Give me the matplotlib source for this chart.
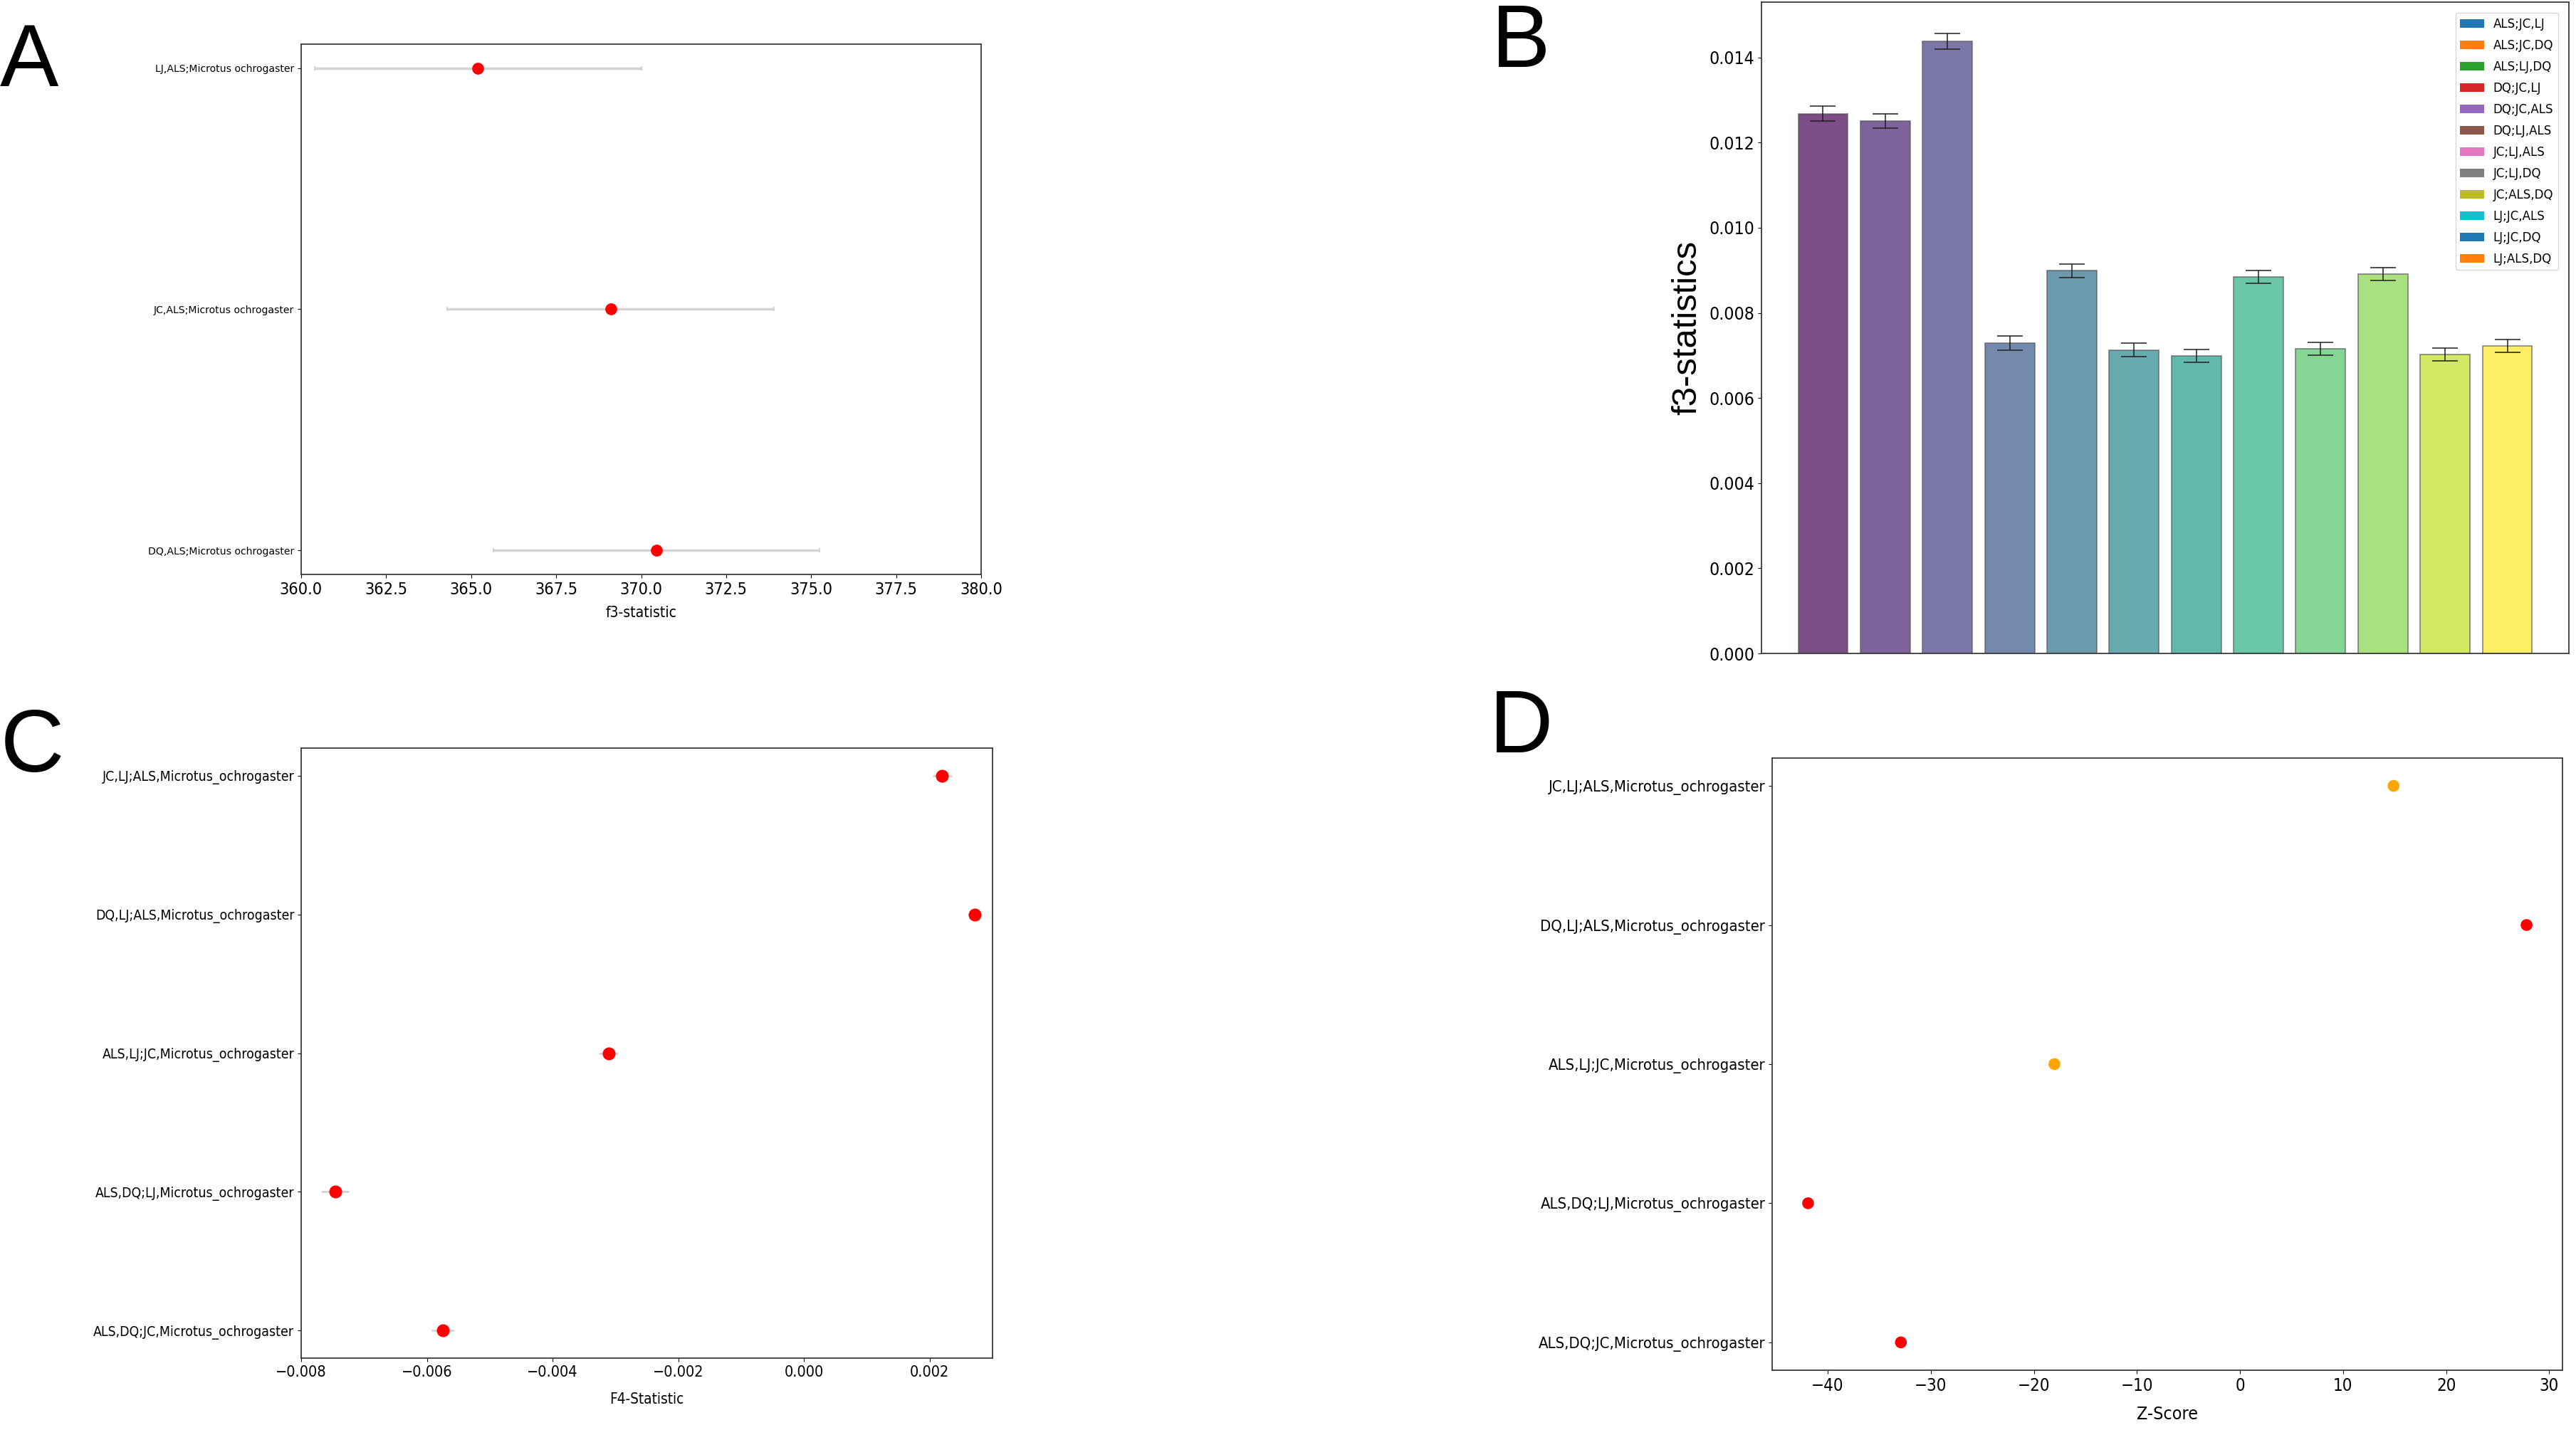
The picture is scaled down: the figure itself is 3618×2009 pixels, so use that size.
import matplotlib
matplotlib.use("Agg")
import matplotlib.pyplot as plt
from matplotlib import font_manager as fm
from matplotlib.patches import Patch
import numpy as np

# ---------------- data ----------------
# Panel A: f3 (outgroup) statistics
a_labels = ["LJ,ALS;Microtus ochrogaster", "JC,ALS;Microtus ochrogaster", "DQ,ALS;Microtus ochrogaster"]
a_values = [365.2, 369.1, 370.45]
a_errors = [4.8, 4.8, 4.8]

# Panel B: f3 statistics bar chart
b_labels = ["ALS;JC,LJ", "ALS;JC,DQ", "ALS;LJ,DQ", "DQ;JC,LJ", "DQ;JC,ALS", "DQ;LJ,ALS",
            "JC;LJ,ALS", "JC;LJ,DQ", "JC;ALS,DQ", "LJ;JC,ALS", "LJ;JC,DQ", "LJ;ALS,DQ"]
b_values = [0.01268, 0.01251, 0.01438, 0.00729, 0.00899, 0.00713,
            0.00699, 0.00885, 0.00716, 0.00891, 0.00702, 0.00723]
b_errors = [0.00017, 0.00017, 0.00019, 0.00016, 0.00016, 0.00016,
            0.00015, 0.00015, 0.00015, 0.00015, 0.00015, 0.00015]

# Panel C / D: f4 statistics and Z-scores
cd_labels = ["JC,LJ;ALS,Microtus_ochrogaster", "DQ,LJ;ALS,Microtus_ochrogaster",
             "ALS,LJ;JC,Microtus_ochrogaster", "ALS,DQ;LJ,Microtus_ochrogaster",
             "ALS,DQ;JC,Microtus_ochrogaster"]
c_values = [0.00220, 0.00272, -0.00311, -0.00746, -0.00575]
c_errors = [0.00015, 0.00010, 0.00015, 0.00022, 0.00018]
d_values = [14.9, 27.8, -18.0, -41.9, -32.9]
d_colors = ["orange", "red", "orange", "red", "red"]

# ---------------- fonts ----------------
DPI = 100
entries = fm.fontManager.ttflist
names = {f.name for f in entries}
if any(f.name == "DejaVu Sans" and str(f.stretch) == "condensed" for f in entries):
    TICK = dict(family="DejaVu Sans", stretch="condensed")
elif "Liberation Sans Narrow" in names:
    TICK = dict(family="Liberation Sans Narrow", stretch="normal")
else:
    TICK = dict(family="DejaVu Sans", stretch="normal")

plt.rcParams["font.family"] = [TICK["family"], "DejaVu Sans"]
plt.rcParams["font.stretch"] = TICK["stretch"]
plt.rcParams["axes.linewidth"] = 1.3
plt.rcParams["axes.edgecolor"] = "#3a3a3a"

W, H = 3618, 2009
fig = plt.figure(figsize=(W / DPI, H / DPI), dpi=DPI)
renderer = fig.canvas.get_renderer()


def text_w(s, px, **kw):
    t = fig.text(0, 0, s, fontsize=px * 72 / DPI, **kw)
    w = t.get_window_extent(renderer).width
    t.remove()
    return w


def fit_pt(samples, target_w, max_px, **kw):
    w = max(text_w(s, max_px, **kw) for s in samples)
    return max_px * min(1.0, target_w / w) * 72 / DPI


def axes_px(l, t, r, b):
    return fig.add_axes([l / W, 1 - b / H, (r - l) / W, (b - t) / H])


NORMAL = dict(family="DejaVu Sans", stretch="normal")

# ---------------- Panel A ----------------
axA = axes_px(423, 62, 1378, 807)
n = len(a_labels)
ya = [n - 1 - i for i in range(n)]
axA.errorbar(a_values, ya, xerr=a_errors, fmt="o", color="red", ms=11,
             ecolor="lightgray", elinewidth=2.5, capsize=2, capthick=1.5, zorder=3)
axA.set_xlim(360, 380)
ptA_y = fit_pt(a_labels, 250, 14, **NORMAL)
axA.set_yticks(ya, a_labels, fontfamily="DejaVu Sans", fontstretch="normal", fontsize=ptA_y)
axA.tick_params(axis="x", labelsize=fit_pt(["360.0"], 60, 26))
axA.set_xlabel("f3-statistic", fontsize=fit_pt(["f3-statistic"], 100, 26), labelpad=8)

# ---------------- Panel B ----------------
axB = axes_px(2474, 3, 3608, 918)
xb = np.arange(len(b_values))
cols = plt.get_cmap("viridis")(np.linspace(0, 1, len(b_values)))
axB.bar(xb, b_values, width=0.8, color=cols, alpha=0.7, edgecolor="#555555", linewidth=1.2,
        yerr=b_errors, ecolor="#222222", capsize=13,
        error_kw=dict(elinewidth=1.4, capthick=1.4, alpha=0.8))
axB.set_xticks([])
axB.tick_params(axis="y", labelsize=fit_pt(["0.014"], 64, 25))
axB.set_ylabel("f3-statistics", family="Liberation Sans", fontstretch="normal",
               fontsize=fit_pt(["f3-statistics"], 250, 49, family="Liberation Sans", stretch="normal"),
               labelpad=6)
tab = plt.get_cmap("tab10").colors
handles = [Patch(facecolor=tab[i % 10], label=lab) for i, lab in enumerate(b_labels)]
axB.legend(handles=handles, loc="upper right", prop=dict(family="DejaVu Sans", stretch="normal", size=12),
           labelspacing=0.72, handlelength=2.0, borderaxespad=0.9)

# ---------------- Panel C ----------------
axC = axes_px(423, 1051, 1394, 1908)
m = len(cd_labels)
yc = [m - 1 - i for i in range(m)]
axC.errorbar(c_values, yc, xerr=c_errors, fmt="o", color="red", ms=12,
             ecolor="lightgray", elinewidth=2.0, capsize=0, zorder=3)
axC.set_xlim(-0.008, 0.003)
axC.set_yticks(yc, cd_labels)
axC.tick_params(axis="y", labelsize=fit_pt(cd_labels, 280, 23))
axC.tick_params(axis="x", labelsize=fit_pt(["\u22120.008"], 72, 23))
axC.set_xlabel("F4-Statistic", fontsize=fit_pt(["F4-Statistic"], 105, 23), labelpad=13)

# ---------------- Panel D ----------------
axD = axes_px(2489, 1065, 3599, 1925)
axD.scatter(d_values, yc, c=d_colors, s=120, zorder=3)
axD.set_yticks(yc, cd_labels)
axD.tick_params(axis="y", labelsize=fit_pt(cd_labels, 320, 27))
axD.tick_params(axis="x", labelsize=fit_pt(["\u221240"], 48, 24))
axD.set_xlabel("Z-Score", fontsize=fit_pt(["Z-Score"], 85, 26), labelpad=12)

# ---------------- Panel letters ----------------
for letter, x, base in [("A", 0, 121), ("B", 2095, 94), ("C", 1, 1084), ("D", 2092, 1057)]:
    fig.text(x / W, 1 - base / H, letter, fontsize=89, family="Liberation Sans",
             fontstretch="normal", va="baseline", ha="left")

fig.savefig("out.png", dpi=DPI, facecolor="white")
